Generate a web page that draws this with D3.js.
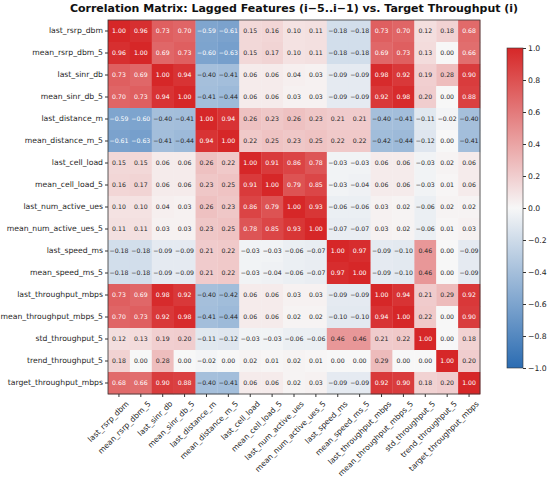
<!DOCTYPE html>
<html>
<head>
<meta charset="utf-8">
<script src="https://cdn.jsdelivr.net/npm/d3@7"></script>
<style>
  body { margin: 0; background: #fff; }
  text { font-family: "DejaVu Sans", sans-serif; }
</style>
</head>
<body>
<div id="chart"></div>
<script>
const features = [
    "last_rsrp_dbm", "mean_rsrp_dbm_5", "last_sinr_db", "mean_sinr_db_5",
    "last_distance_m", "mean_distance_m_5", "last_cell_load", "mean_cell_load_5",
    "last_num_active_ues", "mean_num_active_ues_5", "last_speed_ms", "mean_speed_ms_5",
    "last_throughput_mbps", "mean_throughput_mbps_5", "std_throughput_5",
    "trend_throughput_5", "target_throughput_mbps"
];

// one row per feature
const corr = [
    [1.00, 0.96, 0.73, 0.70, -0.59, -0.61, 0.15, 0.16, 0.10, 0.11, -0.18, -0.18, 0.73, 0.70, 0.12, 0.18, 0.68],
    [0.96, 1.00, 0.69, 0.73, -0.60, -0.63, 0.15, 0.17, 0.10, 0.11, -0.18, -0.18, 0.69, 0.73, 0.13, 0.00, 0.66],
    [0.73, 0.69, 1.00, 0.94, -0.40, -0.41, 0.06, 0.06, 0.04, 0.03, -0.09, -0.09, 0.98, 0.92, 0.19, 0.28, 0.90],
    [0.70, 0.73, 0.94, 1.00, -0.41, -0.44, 0.06, 0.06, 0.03, 0.03, -0.09, -0.09, 0.92, 0.98, 0.20, 0.00, 0.88],
    [-0.59, -0.60, -0.40, -0.41, 1.00, 0.94, 0.26, 0.23, 0.26, 0.23, 0.21, 0.21, -0.40, -0.41, -0.11, -0.02, -0.40],
    [-0.61, -0.63, -0.41, -0.44, 0.94, 1.00, 0.22, 0.25, 0.23, 0.25, 0.22, 0.22, -0.42, -0.44, -0.12, 0.00, -0.41],
    [0.15, 0.15, 0.06, 0.06, 0.26, 0.22, 1.00, 0.91, 0.86, 0.78, -0.03, -0.03, 0.06, 0.06, -0.03, 0.02, 0.06],
    [0.16, 0.17, 0.06, 0.06, 0.23, 0.25, 0.91, 1.00, 0.79, 0.85, -0.03, -0.04, 0.06, 0.06, -0.03, 0.01, 0.06],
    [0.10, 0.10, 0.04, 0.03, 0.26, 0.23, 0.86, 0.79, 1.00, 0.93, -0.06, -0.06, 0.03, 0.02, -0.06, 0.02, 0.02],
    [0.11, 0.11, 0.03, 0.03, 0.23, 0.25, 0.78, 0.85, 0.93, 1.00, -0.07, -0.07, 0.03, 0.02, -0.06, 0.01, 0.03],
    [-0.18, -0.18, -0.09, -0.09, 0.21, 0.22, -0.03, -0.03, -0.06, -0.07, 1.00, 0.97, -0.09, -0.10, 0.46, 0.00, -0.09],
    [-0.18, -0.18, -0.09, -0.09, 0.21, 0.22, -0.03, -0.04, -0.06, -0.07, 0.97, 1.00, -0.09, -0.10, 0.46, 0.00, -0.09],
    [0.73, 0.69, 0.98, 0.92, -0.40, -0.42, 0.06, 0.06, 0.03, 0.03, -0.09, -0.09, 1.00, 0.94, 0.21, 0.29, 0.92],
    [0.70, 0.73, 0.92, 0.98, -0.41, -0.44, 0.06, 0.06, 0.02, 0.02, -0.10, -0.10, 0.94, 1.00, 0.22, 0.00, 0.90],
    [0.12, 0.13, 0.19, 0.20, -0.11, -0.12, -0.03, -0.03, -0.06, -0.06, 0.46, 0.46, 0.21, 0.22, 1.00, 0.00, 0.18],
    [0.18, 0.00, 0.28, 0.00, -0.02, 0.00, 0.02, 0.01, 0.02, 0.01, 0.00, 0.00, 0.29, 0.00, 0.00, 1.00, 0.20],
    [0.68, 0.66, 0.90, 0.88, -0.40, -0.41, 0.06, 0.06, 0.02, 0.03, -0.09, -0.09, 0.92, 0.90, 0.18, 0.20, 1.00]
];

const colorbarTicks = [1.0, 0.8, 0.6, 0.4, 0.2, 0.0, -0.2, -0.4, -0.6, -0.8, -1.0];
const title = "Correlation Matrix: Lagged Features (i\u22125..i\u22121) vs. Target Throughput (i)";

const W = 550, H = 477;
const hm = { left: 108, top: 20, right: 480, bottom: 394 };
const cb = { left: 507, right: 523, top: 48, bottom: 368 };
const labelSize = "7.7px";

const data = [];
corr.forEach((row, i) => row.forEach((v, j) => data.push({ row: features[i], col: features[j], value: v })));

const svg = d3.select("#chart").append("svg")
    .attr("width", W)
    .attr("height", H);

const x = d3.scaleBand().domain(features).range([hm.left, hm.right]);
const y = d3.scaleBand().domain(features).range([hm.top, hm.bottom]);

const color = d3.scaleLinear()
    .domain([-1, 0, 1])
    .range(["#2b6cb2", "#f7f7f7", "#d62728"])
    .interpolate(d3.interpolateRgb);

// dark text on light cells, white on strong ones
function textColor(v) {
    const c = d3.rgb(color(v));
    const lin = ch => { ch /= 255; return ch <= 0.03928 ? ch / 12.92 : Math.pow((ch + 0.055) / 1.055, 2.4); };
    const lum = 0.2126 * lin(c.r) + 0.7152 * lin(c.g) + 0.0722 * lin(c.b);
    return lum > 0.37 ? "#262626" : "#ffffff";
}

svg.append("g").selectAll("rect")
    .data(data)
    .join("rect")
    .attr("x", d => x(d.col))
    .attr("y", d => y(d.row))
    .attr("width", x.bandwidth() + 0.3)
    .attr("height", y.bandwidth() + 0.3)
    .attr("fill", d => color(d.value));

svg.append("g").selectAll("text")
    .data(data)
    .join("text")
    .attr("x", d => x(d.col) + x.bandwidth() / 2)
    .attr("y", d => y(d.row) + y.bandwidth() / 2)
    .attr("dy", "0.35em")
    .attr("text-anchor", "middle")
    .attr("font-size", "6.2px")
    .attr("fill", d => textColor(d.value))
    .text(d => d3.format(".2f")(d.value).replace("-", "\u2212"));

// frame
svg.append("rect")
    .attr("x", hm.left).attr("y", hm.top)
    .attr("width", hm.right - hm.left).attr("height", hm.bottom - hm.top)
    .attr("fill", "none").attr("stroke", "#333").attr("stroke-width", 0.8);

// axes
const yAxis = svg.append("g")
    .attr("transform", `translate(${hm.left},0)`)
    .call(d3.axisLeft(y).tickSize(3).tickPadding(2));
yAxis.select(".domain").remove();
yAxis.selectAll("text").attr("font-size", labelSize).attr("fill", "#262626");
yAxis.selectAll("line").attr("stroke", "#333");

const xAxis = svg.append("g")
    .attr("transform", `translate(0,${hm.bottom})`)
    .call(d3.axisBottom(x).tickSize(3).tickPadding(2));
xAxis.select(".domain").remove();
xAxis.selectAll("line").attr("stroke", "#333");
xAxis.selectAll("text")
    .attr("font-size", labelSize)
    .attr("fill", "#262626")
    .attr("text-anchor", "end")
    .attr("dy", "0.7em")
    .attr("transform", "translate(3,3) rotate(-45)");

// title
svg.append("text")
    .attr("x", (hm.left + hm.right) / 2)
    .attr("y", 12)
    .attr("text-anchor", "middle")
    .attr("font-size", "11px")
    .attr("font-weight", "bold")
    .attr("fill", "#111")
    .text(title);

// colorbar
const defs = svg.append("defs");
const grad = defs.append("linearGradient")
    .attr("id", "cbgrad")
    .attr("x1", "0").attr("y1", "1").attr("x2", "0").attr("y2", "0");
d3.range(0, 1.0001, 0.1).forEach(t => {
    grad.append("stop").attr("offset", t).attr("stop-color", color(-1 + 2 * t));
});

svg.append("rect")
    .attr("x", cb.left).attr("y", cb.top)
    .attr("width", cb.right - cb.left).attr("height", cb.bottom - cb.top)
    .attr("fill", "url(#cbgrad)")
    .attr("stroke", "#333").attr("stroke-width", 0.6);

const cbScale = d3.scaleLinear().domain([-1, 1]).range([cb.bottom, cb.top]);
const cbAxis = svg.append("g")
    .attr("transform", `translate(${cb.right},0)`)
    .call(d3.axisRight(cbScale).tickValues(colorbarTicks).tickSize(3).tickPadding(2)
        .tickFormat(d => d3.format(".1f")(d).replace("-", "\u2212")));
cbAxis.select(".domain").remove();
cbAxis.selectAll("text").attr("font-size", labelSize).attr("fill", "#262626");
cbAxis.selectAll("line").attr("stroke", "#333");
</script>
</body>
</html>
